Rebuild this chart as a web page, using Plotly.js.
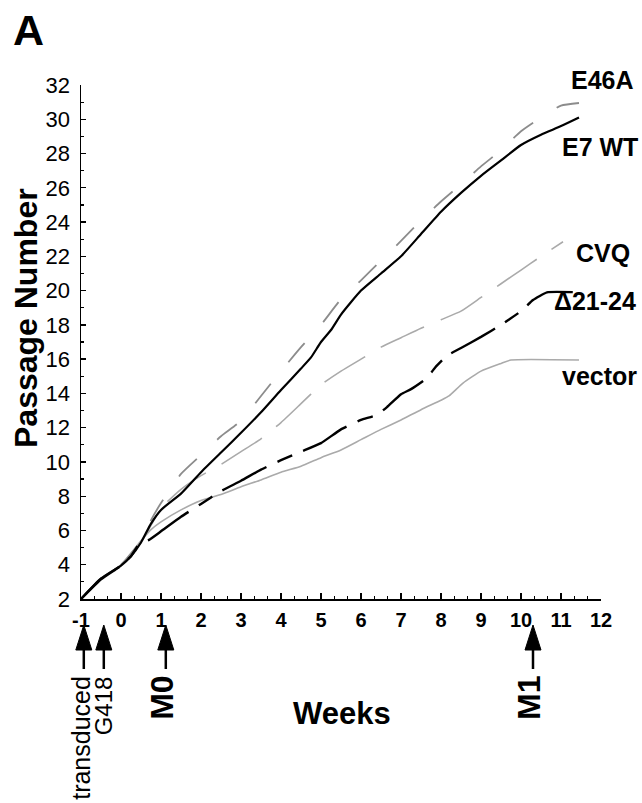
<!DOCTYPE html>
<html>
<head>
<meta charset="utf-8">
<script src="https://cdn.plot.ly/plotly-3.0.1.min.js"></script>
<style>html,body{margin:0;padding:0;background:#fff;}#chart{width:642px;height:803px;}</style>
</head>
<body>
<div id="chart"></div>
<script>
// ---- data (weeks vs passage number) ----
const e7Weeks = [-1,-0.5,0,0.25,0.5,0.75,1,1.5,2,2.5,3,3.5,4,4.5,4.75,5,5.25,5.5,6,6.5,7,7.5,8,8.5,9,9.5,10,10.5,11,11.45];
const e7Pass  = [2,3.2,3.95,4.5,5.3,6.4,7.2,8.15,9.4,10.55,11.7,12.9,14.2,15.45,16.1,17.0,17.7,18.6,20.0,21.0,22.0,23.3,24.6,25.7,26.7,27.6,28.5,29.1,29.6,30.1];

const e46aWeeks = [-1,-0.5,0,0.5,0.75,1,1.5,2,2.5,3,3.5,4,4.5,5,5.5,6,6.5,7,7.5,8,8.5,9,9.5,10,10.5,11,11.45];
const e46aPass  = [2,3.2,4.0,5.4,6.6,7.6,9.3,10.4,11.5,12.4,13.85,15.3,16.7,18.0,19.5,20.6,21.75,22.9,24.1,25.2,26.2,27.25,28.2,29.3,30.1,30.8,30.95];

const cvqWeeks = [-1,-0.5,0,0.5,0.75,1,1.5,2,2.5,3,3.5,4,4.5,5,5.5,6,6.5,7,7.5,8,8.5,9,9.5,10,10.5,11.05];
const cvqPass  = [2,3.2,4.0,5.3,6.3,7.3,8.4,9.2,9.85,10.6,11.35,12.3,13.4,14.5,15.3,16.0,16.7,17.25,17.8,18.3,18.8,19.6,20.4,21.2,22.0,22.85];

const d2124Weeks = [-1,-0.5,0,0.25,0.45,0.7,1,1.5,2,2.5,3,3.5,4,4.5,5,5.5,6,6.4,6.65,7,7.25,7.65,7.85,8.15,8.5,9,9.5,10,10.3,10.65,11.45];
const d2124Pass  = [2,3.15,3.95,4.5,5.2,5.45,5.95,6.8,7.55,8.3,8.9,9.55,10.1,10.6,11.1,11.9,12.45,12.75,13.2,13.95,14.25,14.9,15.5,16.2,16.65,17.3,18.0,18.8,19.45,19.9,19.9];

const vectorWeeks = [-1,-0.5,0,0.5,0.75,1,1.5,2,2.5,3,3.5,4,4.5,5,5.5,6,6.5,7,7.5,8,8.2,8.55,9,9.5,9.75,11.45];
const vectorPass  = [2,3.2,4.0,5.4,6.05,6.5,7.2,7.75,8.1,8.55,8.95,9.4,9.75,10.25,10.7,11.3,11.9,12.45,13.05,13.6,13.85,14.6,15.3,15.75,15.95,15.95];

const seriesNames = ['E46A','E7 WT','CVQ','\u039421-24','vector'];
const xTickVals = [-1,0,1,2,3,4,5,6,7,8,9,10,11,12];
const yTickVals = [2,4,6,8,10,12,14,16,18,20,22,24,26,28,30,32];
const xRange = [-1, 12];
const yRange = [2, 32];

const eventWeeks  = [-0.93, -0.43, 1.12, 10.3];
const eventLabels = ['transduced', 'G418', 'M0', 'M1'];

// ---- style ----
const FONT = 'Liberation Sans, Arial, Helvetica, sans-serif';

const traces = [
  {x: vectorWeeks, y: vectorPass, name: seriesNames[4], mode: 'lines',
   line: {color: '#aaaaaa', width: 1.6, shape: 'spline', smoothing: 0.5}},
  {x: cvqWeeks, y: cvqPass, name: seriesNames[2], mode: 'lines',
   line: {color: '#aaaaaa', width: 1.6, dash: '48px,18px', shape: 'spline', smoothing: 0.5}},
  {x: e46aWeeks, y: e46aPass, name: seriesNames[0], mode: 'lines',
   line: {color: '#8c8c8c', width: 1.8, dash: '25px,28px', shape: 'spline', smoothing: 0.5}},
  {x: d2124Weeks, y: d2124Pass, name: seriesNames[3], mode: 'lines',
   line: {color: '#000', width: 2.4, dash: '50px,12px,16px,12px', shape: 'spline', smoothing: 0.4}},
  {x: e7Weeks, y: e7Pass, name: seriesNames[1], mode: 'lines',
   line: {color: '#000', width: 2.2, shape: 'spline', smoothing: 0.5}}
];

// pixel helpers for the layout (plot area 81..601 x 85..599)
const L = 81, R = 41, T = 85, B = 204, W = 642, H = 803;
const pw = W - L - R, ph = H - T - B;
const px2x = p => (p - L) / pw;
const py2y = p => (H - B - p) / ph;
const wk2paper = w => (w - xRange[0]) / (xRange[1] - xRange[0]);

const annotations = [
  {text: 'A', x: px2x(28), y: py2y(30), xref: 'paper', yref: 'paper', showarrow: false,
   xanchor: 'center', yanchor: 'middle',
   font: {family: FONT, size: 43, weight: 700, color: '#000'}},
  {text: 'Passage Number', x: px2x(26), y: py2y(318), xref: 'paper', yref: 'paper', showarrow: false,
   xanchor: 'center', yanchor: 'middle',
   textangle: -90, font: {family: FONT, size: 32, weight: 700, color: '#000'}},
  {text: 'Weeks', x: px2x(342), y: py2y(713), xref: 'paper', yref: 'paper', showarrow: false,
   xanchor: 'center', yanchor: 'middle',
   font: {family: FONT, size: 31, weight: 700, color: '#000'}}
];

const labelPos = [[602, 80], [600, 147], [603, 253], [595, 301], [599, 376]];
seriesNames.forEach((n, i) => {
  annotations.push({text: n, x: px2x(labelPos[i][0]), y: py2y(labelPos[i][1]), xref: 'paper', yref: 'paper',
    xanchor: 'center', yanchor: 'middle',
    showarrow: false, font: {family: FONT, size: 25, weight: 700, color: '#000'}});
});

const eventFont = [
  {size: 25, weight: 400, xshift: -3},
  {size: 24, weight: 400, xshift: 0},
  {size: 32, weight: 700, xshift: -4},
  {size: 32, weight: 700, xshift: -4}
];
const shapes = [];
const tipY = 625, baseY = 650, endY = 669, textTop = 674;
eventWeeks.forEach((w, i) => {
  const xc = wk2paper(w);
  const half = 8 / pw;
  shapes.push({type: 'path', xref: 'paper', yref: 'paper',
    path: `M ${xc - half} ${py2y(baseY)} L ${xc} ${py2y(tipY)} L ${xc + half} ${py2y(baseY)} Z`,
    fillcolor: '#000', line: {color: '#000', width: 1}});
  shapes.push({type: 'line', xref: 'paper', yref: 'paper',
    x0: xc, x1: xc, y0: py2y(baseY - 1), y1: py2y(endY), line: {color: '#000', width: 2.5}});
  annotations.push({text: eventLabels[i], x: w, xref: 'x', y: py2y(textTop), yref: 'paper',
    yanchor: 'top', xanchor: 'center', showarrow: false, textangle: -90, xshift: eventFont[i].xshift,
    font: {family: FONT, size: eventFont[i].size, weight: eventFont[i].weight, color: '#000'}});
});

const layout = {
  width: W, height: H,
  margin: {l: L, r: R, t: T, b: B, pad: 0},
  paper_bgcolor: '#fff', plot_bgcolor: '#fff',
  showlegend: false,
  font: {family: FONT, color: '#000'},
  xaxis: {
    range: xRange, tickvals: xTickVals, ticktext: xTickVals.map(String),
    showgrid: false, zeroline: false, showline: true, linecolor: '#000', linewidth: 1.5,
    ticks: 'inside', ticklen: 6, tickwidth: 1.3, tickcolor: '#000',
    ticklabelstandoff: 2,
    minor: {dtick: 1/3, tick0: -1, ticks: 'inside', ticklen: 3, tickwidth: 1.2, tickcolor: '#000'},
    tickfont: {family: FONT, size: 20, weight: 700, color: '#000'}
  },
  yaxis: {
    range: yRange, tickvals: yTickVals, ticktext: yTickVals.map(String),
    showgrid: false, zeroline: false, showline: true, linecolor: '#000', linewidth: 1.5,
    ticks: 'inside', ticklen: 5, tickwidth: 1.3, tickcolor: '#000',
    ticklabelstandoff: 5,
    minor: {dtick: 1, tick0: 2, ticks: 'inside', ticklen: 3, tickwidth: 1.2, tickcolor: '#000'},
    tickfont: {family: FONT, size: 22, color: '#000'}
  },
  annotations: annotations,
  shapes: shapes
};

Plotly.newPlot('chart', traces, layout, {staticPlot: true, displayModeBar: false});
</script>
</body>
</html>
